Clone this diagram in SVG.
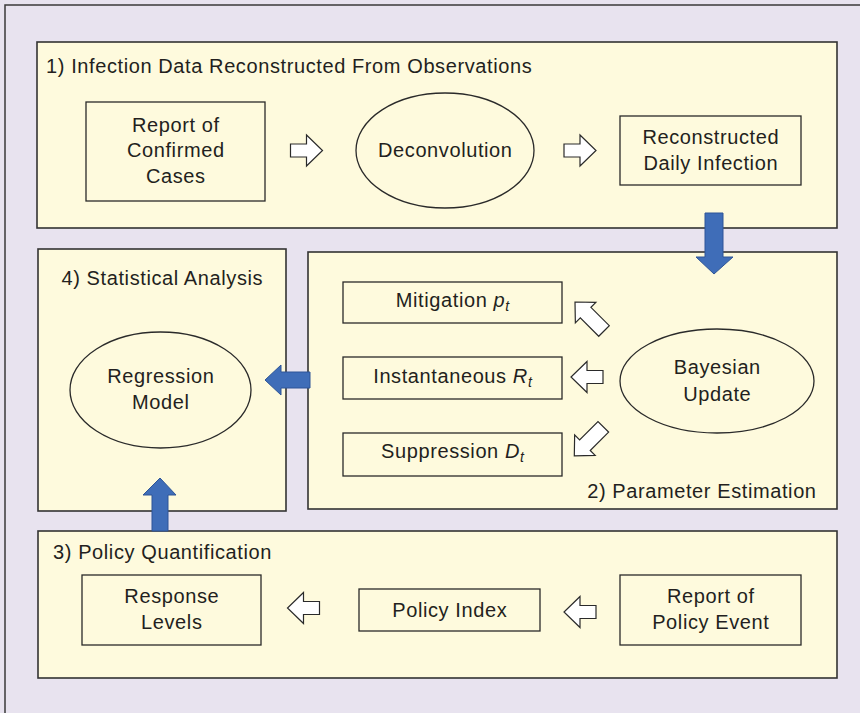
<svg xmlns="http://www.w3.org/2000/svg" width="860" height="713" viewBox="0 0 860 713">
  <defs>
    <style>
      .bg { fill: #E8E3EF; }
      .frame { fill: none; stroke: #3a3a3a; stroke-width: 1.5; }
      .panel { fill: #FEFADD; stroke: #333333; stroke-width: 1.6; }
      .box { fill: #FEFADD; stroke: #2a2a2a; stroke-width: 1.3; }
      .hollow { fill: #FFFFFF; stroke: #2a2a2a; stroke-width: 1.2; stroke-linejoin: miter; }
      .blue { fill: #3F6DB8; stroke: #2E5597; stroke-width: 1; }
      text { font-family: "Liberation Sans", Arial, Helvetica, sans-serif; fill: #231F20; letter-spacing: 0.6px; }
      .title { font-size: 20px; }
      .lbl { font-size: 20px; text-anchor: middle; }
      .it { font-style: italic; }
      .sub { font-style: italic; font-size: 14px; letter-spacing: 0; }
    </style>
    <!-- hollow block arrow pointing right, centred on the origin -->
    <polygon id="harrow" class="hollow" points="-16,-6.5 0,-6.5 0,-15.5 16,0 0,15.5 0,6.5 -16,6.5"/>
    <!-- longer hollow block arrow used for the diagonal links -->
    <polygon id="harrow-long" class="hollow" points="-20.5,-7.5 5.5,-7.5 5.5,-14.5 20.5,0 5.5,14.5 5.5,7.5 -20.5,7.5"/>
  </defs>

  <!-- page background and frame -->
  <rect class="bg" x="0" y="0" width="860" height="713"/>
  <path class="frame" d="M5,713 V5 H860"/>

  <!-- stage panels -->
  <g id="panel-infection">
    <rect class="panel" x="37" y="42" width="800" height="186"/>
    <text class="title" x="46" y="73">1) Infection Data Reconstructed From Observations</text>
  </g>
  <g id="panel-statistics">
    <rect class="panel" x="38" y="249" width="248" height="262"/>
    <text class="title" x="162.3" y="285" text-anchor="middle">4) Statistical Analysis</text>
  </g>
  <g id="panel-parameters">
    <rect class="panel" x="308" y="252" width="529" height="257"/>
    <text class="title" x="816.6" y="498" text-anchor="end">2) Parameter Estimation</text>
  </g>
  <g id="panel-policy">
    <rect class="panel" x="38" y="531" width="799" height="147"/>
    <text class="title" x="53" y="559">3) Policy Quantification</text>
  </g>

  <!-- nodes -->
  <g id="confirmed-cases">
    <rect class="box" x="86" y="102" width="179" height="99"/>
    <text class="lbl" x="175.8" y="132">Report of</text>
    <text class="lbl" x="175.8" y="157">Confirmed</text>
    <text class="lbl" x="175.8" y="183">Cases</text>
  </g>
  <g id="deconvolution">
    <ellipse class="box" cx="445" cy="150.5" rx="89" ry="57.5"/>
    <text class="lbl" x="445.3" y="157">Deconvolution</text>
  </g>
  <g id="daily-infection">
    <rect class="box" x="620" y="116" width="181" height="69"/>
    <text class="lbl" x="710.8" y="144">Reconstructed</text>
    <text class="lbl" x="710.8" y="170">Daily Infection</text>
  </g>
  <g id="regression-model">
    <ellipse class="box" cx="160.5" cy="390" rx="90.5" ry="58"/>
    <text class="lbl" x="160.8" y="383">Regression</text>
    <text class="lbl" x="160.8" y="409">Model</text>
  </g>
  <g id="mitigation">
    <rect class="box" x="343" y="282" width="219" height="41"/>
    <text class="lbl" x="452.5" y="307">Mitigation <tspan class="it">p</tspan><tspan class="sub" dy="4">t</tspan></text>
  </g>
  <g id="instantaneous">
    <rect class="box" x="343" y="357" width="219" height="42"/>
    <text class="lbl" x="452.5" y="383">Instantaneous <tspan class="it">R</tspan><tspan class="sub" dy="4">t</tspan></text>
  </g>
  <g id="suppression">
    <rect class="box" x="343" y="433" width="219" height="43"/>
    <text class="lbl" x="452.5" y="458">Suppression <tspan class="it">D</tspan><tspan class="sub" dy="4">t</tspan></text>
  </g>
  <g id="bayesian-update">
    <ellipse class="box" cx="717" cy="381" rx="97" ry="52"/>
    <text class="lbl" x="717.3" y="374">Bayesian</text>
    <text class="lbl" x="717.3" y="401">Update</text>
  </g>
  <g id="response-levels">
    <rect class="box" x="82" y="575" width="179" height="70"/>
    <text class="lbl" x="171.8" y="603">Response</text>
    <text class="lbl" x="171.8" y="629">Levels</text>
  </g>
  <g id="policy-index">
    <rect class="box" x="359" y="589" width="181" height="42"/>
    <text class="lbl" x="449.8" y="617">Policy Index</text>
  </g>
  <g id="policy-event">
    <rect class="box" x="620" y="575" width="181" height="70"/>
    <text class="lbl" x="710.8" y="603">Report of</text>
    <text class="lbl" x="710.8" y="629">Policy Event</text>
  </g>

  <!-- connectors -->
  <g id="connectors">
    <!-- hollow arrows inside stages -->
    <use href="#harrow" transform="translate(306.5,150.5)"/>
    <use href="#harrow" transform="translate(580,150.5)"/>
    <use href="#harrow-long" transform="translate(589.5,316.5) rotate(225)"/>
    <use href="#harrow" transform="translate(587,377) rotate(180)"/>
    <use href="#harrow-long" transform="translate(588.8,441.3) rotate(135)"/>
    <use href="#harrow" transform="translate(303.5,608) rotate(180)"/>
    <use href="#harrow" transform="translate(580,612) rotate(180)"/>
    <!-- solid blue arrows between stages -->
    <polygon class="blue" points="705,213 723,213 723,257 733,257 714,274 696,257 705,257"/>
    <polygon class="blue" points="310,372 310,388 281,388 281,395 265,380 281,365 281,372"/>
    <polygon class="blue" points="152,531 168,531 168,495 176,495 160,478 143,495 152,495"/>
  </g>
</svg>
